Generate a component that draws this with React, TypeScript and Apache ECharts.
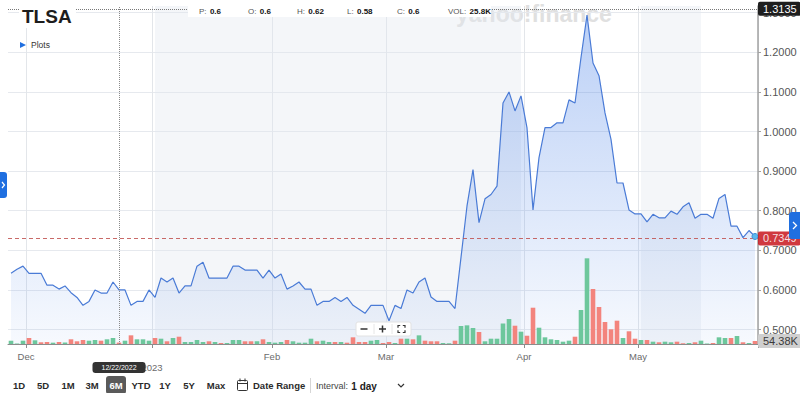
import React, { useEffect, useRef } from "react";
import * as echarts from "echarts";

// ---------- DATA ----------
const tradingDays: [number, number, number[]][] = [
  [2022, 11, [28, 29, 30]],
  [2022, 12, [1, 2, 5, 6, 7, 8, 9, 12, 13, 14, 15, 16, 19, 20, 21, 22, 23, 27, 28, 29, 30]],
  [2023, 1, [3, 4, 5, 6, 9, 10, 11, 12, 13, 17, 18, 19, 20, 23, 24, 25, 26, 27, 30, 31]],
  [2023, 2, [1, 2, 3, 6, 7, 8, 9, 10, 13, 14, 15, 16, 17, 21, 22, 23, 24, 27, 28]],
  [2023, 3, [1, 2, 3, 6, 7, 8, 9, 10, 13, 14, 15, 16, 17, 20, 21, 22, 23, 24, 27, 28, 29, 30, 31]],
  [2023, 4, [3, 4, 5, 6, 10, 11, 12, 13, 14, 17, 18, 19, 20, 21, 24, 25, 26, 27, 28]],
  [2023, 5, [1, 2, 3, 4, 5, 8, 9, 10, 11, 12, 15, 16, 17, 18, 19, 22, 23, 24, 25, 26]],
];

const closes = [
  0.642, 0.652, 0.66, 0.642, 0.642, 0.642, 0.612, 0.612, 0.602, 0.61,
  0.593, 0.581, 0.561, 0.571, 0.6, 0.592, 0.592, 0.62, 0.6, 0.6,
  0.561, 0.571, 0.571, 0.6, 0.581, 0.63, 0.62, 0.63, 0.592, 0.61,
  0.61, 0.66, 0.67, 0.63, 0.63, 0.63, 0.63, 0.66, 0.66, 0.65,
  0.65, 0.65, 0.63, 0.65, 0.63, 0.64, 0.602, 0.61, 0.62, 0.602,
  0.602, 0.561, 0.571, 0.571, 0.581, 0.571, 0.581, 0.561, 0.551, 0.541,
  0.561, 0.561, 0.561, 0.522, 0.561, 0.553, 0.6, 0.592, 0.62, 0.63,
  0.582, 0.571, 0.571, 0.571, 0.553, 0.682, 0.812, 0.904, 0.77, 0.83,
  0.841, 0.862, 1.072, 1.1, 1.052, 1.09, 1.009, 0.802, 0.934, 1.01,
  1.01, 1.022, 1.022, 1.08, 1.072, 1.187, 1.294, 1.173, 1.141, 1.047,
  0.98, 0.87, 0.87, 0.802, 0.792, 0.792, 0.772, 0.791, 0.782, 0.782,
  0.799, 0.791, 0.81, 0.82, 0.781, 0.791, 0.791, 0.781, 0.831, 0.841,
  0.761, 0.761, 0.732, 0.75, 0.7349,
];

// volume in thousands
const volumes = [
  60, 9, 60, 109, 67, 31, 36, 24, 36, 27,
  85, 49, 72, 60, 72, 60, 85, 109, 25.8, 60,
  157, 85, 85, 60, 109, 96, 49, 109, 132, 36,
  36, 72, 36, 49, 36, 18, 18, 72, 72, 49,
  49, 49, 85, 36, 24, 36, 72, 49, 24, 24,
  96, 49, 60, 36, 36, 36, 24, 121, 36, 36,
  60, 72, 18, 36, 18, 96, 96, 85, 157, 60,
  49, 49, 18, 13, 60, 326, 338, 290, 217, 49,
  96, 96, 371, 452, 331, 223, 150, 657, 295, 121,
  85, 72, 42, 60, 132, 615, 1551, 996, 670, 398,
  266, 422, 109, 230, 96, 72, 72, 42, 31, 42,
  31, 42, 13, 18, 31, 60, 9, 18, 121, 109,
  109, 145, 31, 18, 54.38,
];

const volDir = [
  "u", "u", "u", "d", "u", "d", "d", "u", "d", "u",
  "d", "d", "d", "u", "u", "d", "u", "u", "d", "u",
  "d", "u", "u", "u", "d", "u", "d", "u", "d", "u",
  "u", "u", "u", "d", "u", "d", "u", "u", "u", "d",
  "d", "u", "d", "u", "u", "u", "d", "u", "u", "u",
  "u", "d", "u", "u", "d", "u", "d", "d", "d", "d",
  "u", "u", "d", "d", "u", "d", "u", "d", "u", "d",
  "d", "d", "u", "u", "d", "u", "u", "u", "d", "u",
  "u", "u", "u", "u", "d", "u", "d", "d", "u", "u",
  "u", "u", "u", "u", "d", "u", "u", "d", "d", "d",
  "d", "d", "u", "d", "d", "u", "d", "u", "d", "u",
  "u", "d", "d", "u", "d", "u", "u", "d", "u", "u",
  "d", "u", "d", "u", "d",
];

const shadedRanges: [string, string][] = [
  ["2023-01-03", "2023-03-31"],
  ["2023-05-01", "2023-05-15"],
];

const periodHigh = 1.3135;
const crosshairDate = "2022-12-22";
const crosshairLabel = "12/22/2022";
const ticker = "TLSA";
const infoLabels = ["P", "O", "H", "L", "C", "VOL"];
const infoValues = ["0.6", "0.6", "0.62", "0.58", "0.6", "25.8K"];
const rangeButtons = ["1D", "5D", "1M", "3M", "6M", "YTD", "1Y", "5Y", "Max"];
const selectedRange = "6M";
const monthNames = ["Jan", "Feb", "Mar", "Apr", "May", "Jun", "Jul", "Aug", "Sep", "Oct", "Nov", "Dec"];

// ---------- DERIVED ----------
const pad = (n: number) => (n < 10 ? "0" + n : "" + n);
const categories: string[] = [];
tradingDays.forEach(([y, m, days]) => days.forEach((d) => categories.push(`${y}-${pad(m)}-${pad(d)}`)));
const monthOf = (s: string) => parseInt(s.slice(5, 7), 10);
const yearOf = (s: string) => s.slice(0, 4);
const isLabel = categories.map((c, i) => i > 0 && monthOf(c) !== monthOf(categories[i - 1]));
const labelText = (i: number) => {
  const c = categories[i];
  if (!c) return "";
  return monthOf(c) === 1 ? "\n" + yearOf(c) : monthNames[monthOf(c) - 1];
};
const last = closes.length - 1;
const lastClose = closes[last];
const lastVolume = volumes[last];

const FONT = "'Liberation Sans', Arial, Helvetica, sans-serif";
const GREEN = "#6dc79c";
const RED = "#f3847d";
const BLUE = "#1f6fe0";

// layout positions for chrome
const infoX = [199, 248, 297, 347, 397, 448];
const rangeX = [19, 43, 68, 92, 116, 141, 165, 189, 216];

function buildOption(): any {
  const graphics: any[] = [];
  // watermark (behind series)
  graphics.push({
    type: "text", x: 456, y: 14, z: 0, zlevel: 0, silent: true,
    style: { text: "yahoo!finance", fill: "#e0e0e0", font: "bold 23px " + FONT, verticalAlign: "middle" },
  });
  // info strip
  graphics.push({ type: "rect", z: 50, shape: { x: 188, y: 4, width: 303, height: 13 }, style: { fill: "#ffffff" } });
  infoLabels.forEach((l, i) => {
    graphics.push({
      type: "text", z: 51, x: infoX[i], y: 11,
      style: {
        text: `{l|${l}:} {v|${infoValues[i]}}`, verticalAlign: "middle",
        rich: {
          l: { fill: "#555", font: "8px " + FONT },
          v: { fill: "#111", font: "bold 8px " + FONT },
        },
      },
    });
  });
  // ticker
  graphics.push({ type: "rect", z: 50, shape: { x: 19, y: 1, width: 57, height: 27 }, style: { fill: "#ffffff" } });
  graphics.push({
    type: "text", z: 51, x: 22, y: 16,
    style: { text: ticker, fill: "#1d1d1d", font: "bold 19px " + FONT, verticalAlign: "middle" },
  });
  graphics.push({
    type: "polygon", z: 51, shape: { points: [[20, 42], [26, 45], [20, 48]] }, style: { fill: BLUE },
  });
  graphics.push({
    type: "text", z: 51, x: 31, y: 45,
    style: { text: "Plots", fill: "#333", font: "8.5px " + FONT, verticalAlign: "middle" },
  });
  // side tabs
  graphics.push({ type: "rect", z: 50, shape: { x: 0, y: 172, width: 7, height: 26, r: [0, 3, 3, 0] }, style: { fill: BLUE } });
  graphics.push({ type: "polyline", z: 51, shape: { points: [[2, 182], [4.5, 185], [2, 188]] }, style: { stroke: "#fff", lineWidth: 1.2, fill: null } });
  graphics.push({ type: "rect", z: 50, shape: { x: 789, y: 212, width: 11, height: 27, r: [3, 0, 0, 3] }, style: { fill: BLUE } });
  graphics.push({ type: "polyline", z: 51, shape: { points: [[793, 222], [796.5, 225.5], [793, 229]] }, style: { stroke: "#fff", lineWidth: 1.3, fill: null } });
  // zoom control
  graphics.push({ type: "rect", z: 50, shape: { x: 356, y: 322, width: 55, height: 14, r: 2 }, style: { fill: "#fff", stroke: "#e2e2e2", lineWidth: 1 } });
  graphics.push({ type: "line", z: 51, shape: { x1: 374, y1: 324, x2: 374, y2: 334 }, style: { stroke: "#e6e6e6" } });
  graphics.push({ type: "line", z: 51, shape: { x1: 392, y1: 324, x2: 392, y2: 334 }, style: { stroke: "#e6e6e6" } });
  graphics.push({ type: "line", z: 51, shape: { x1: 360.5, y1: 329, x2: 367.5, y2: 329 }, style: { stroke: "#333", lineWidth: 1.5 } });
  graphics.push({ type: "line", z: 51, shape: { x1: 379, y1: 329, x2: 386, y2: 329 }, style: { stroke: "#333", lineWidth: 1.5 } });
  graphics.push({ type: "line", z: 51, shape: { x1: 382.5, y1: 325.5, x2: 382.5, y2: 332.5 }, style: { stroke: "#333", lineWidth: 1.5 } });
  const ex = 398, ey = 325.5, es = 7, ec = 2.2;
  [
    [[ex, ey + ec], [ex, ey], [ex + ec, ey]],
    [[ex + es - ec, ey], [ex + es, ey], [ex + es, ey + ec]],
    [[ex, ey + es - ec], [ex, ey + es], [ex + ec, ey + es]],
    [[ex + es - ec, ey + es], [ex + es, ey + es], [ex + es, ey + es - ec]],
  ].forEach((pts) =>
    graphics.push({ type: "polyline", z: 51, shape: { points: pts }, style: { stroke: "#333", lineWidth: 1.2, fill: null } })
  );
  // bottom toolbar
  rangeButtons.forEach((b, i) => {
    const sel = b === selectedRange;
    if (sel) {
      graphics.push({ type: "rect", z: 50, shape: { x: rangeX[i] - 10, y: 376, width: 20, height: 18, r: 3 }, style: { fill: "#5a5a5a" } });
    }
    graphics.push({
      type: "text", z: 51, x: rangeX[i], y: 385.5,
      style: { text: b, fill: sel ? "#fff" : "#2b2b2b", font: "bold 9.5px " + FONT, align: "center", verticalAlign: "middle" },
    });
  });
  graphics.push({ type: "rect", z: 51, shape: { x: 237.5, y: 380.5, width: 10, height: 10, r: 1 }, style: { fill: null, stroke: "#333", lineWidth: 1 } });
  graphics.push({ type: "line", z: 51, shape: { x1: 237.5, y1: 383.5, x2: 247.5, y2: 383.5 }, style: { stroke: "#333", lineWidth: 1 } });
  graphics.push({ type: "line", z: 51, shape: { x1: 240, y1: 378.5, x2: 240, y2: 381.5 }, style: { stroke: "#333", lineWidth: 1 } });
  graphics.push({ type: "line", z: 51, shape: { x1: 245, y1: 378.5, x2: 245, y2: 381.5 }, style: { stroke: "#333", lineWidth: 1 } });
  graphics.push({
    type: "text", z: 51, x: 253, y: 385.5,
    style: { text: "Date Range", fill: "#2b2b2b", font: "bold 9.5px " + FONT, verticalAlign: "middle" },
  });
  graphics.push({ type: "line", z: 51, shape: { x1: 310.5, y1: 378, x2: 310.5, y2: 393 }, style: { stroke: "#d6d6d6", lineWidth: 1 } });
  graphics.push({
    type: "text", z: 51, x: 316, y: 386,
    style: {
      text: "{l|Interval:} {v|1 day}", verticalAlign: "middle",
      rich: { l: { fill: "#444", font: "9px " + FONT }, v: { fill: "#222", font: "bold 10px " + FONT } },
    },
  });
  graphics.push({ type: "polyline", z: 51, shape: { points: [[398, 384], [401, 387], [404, 384]] }, style: { stroke: "#333", lineWidth: 1.2, fill: null } });

  return {
    animation: false,
    backgroundColor: "#ffffff",
    textStyle: { fontFamily: FONT },
    grid: { left: 8, right: 42, top: 6, bottom: 49, containLabel: false },
    xAxis: {
      type: "category",
      data: categories,
      boundaryGap: true,
      axisLine: { show: true, lineStyle: { color: "#8c8c8c", width: 1 } },
      axisTick: { show: true, interval: (i: number) => isLabel[i], length: 4, lineStyle: { color: "#8c8c8c" } },
      axisLabel: {
        interval: (i: number) => isLabel[i],
        formatter: (_v: string, i: number) => labelText(i),
        color: "#6b6b6b", fontSize: 9.5, margin: 7, lineHeight: 11, padding: [0, 6, 0, 0],
      },
      splitLine: { show: true, interval: (i: number) => isLabel[i], lineStyle: { color: "#e3e6ea", width: 1 } },
    },
    yAxis: [
      {
        type: "value", position: "right", min: 0.4634, max: 1.317, splitNumber: 8,
        axisLine: { show: true, lineStyle: { color: "#a2a2a2", width: 1.5 } },
        axisTick: { show: true, length: 3, lineStyle: { color: "#a2a2a2" } },
        axisLabel: {
          formatter: (v: number) => v.toFixed(4), color: "#555", fontSize: 11, margin: 5,
          showMinLabel: false, showMaxLabel: false,
        },
        splitLine: { show: true, lineStyle: { color: "#e6e9ee" }, showMinLine: false, showMaxLine: false },
      },
      { type: "value", min: 0, max: 6118, show: false, splitLine: { show: false } },
    ],
    graphic: { elements: graphics },
    series: [
      {
        type: "line", data: [], z: 1, silent: true, yAxisIndex: 0,
        markArea: {
          silent: true,
          itemStyle: { color: "rgba(225,231,239,0.38)" },
          data: shadedRanges.map(([a, b]) => [{ xAxis: a }, { xAxis: b }]),
        },
      },
      {
        type: "line", name: "Close", data: closes, yAxisIndex: 0, z: 2,
        showSymbol: false, symbol: "none",
        lineStyle: { color: "#4a7bd6", width: 1.2 },
        areaStyle: {
          color: new echarts.graphic.LinearGradient(0, 0, 0, 1, [
            { offset: 0, color: "rgba(60,120,230,0.5)" },
            { offset: 1, color: "rgba(60,120,230,0.06)" },
          ]),
        },
        markLine: {
          silent: true, symbol: ["none", "none"], animation: false,
          data: [
            {
              yAxis: lastClose,
              lineStyle: { color: "#c0504d", type: [4, 3], width: 1, opacity: 0.85 },
              label: {
                show: true, position: "end", formatter: lastClose.toFixed(4), distance: 0,
                backgroundColor: "#c8161d", color: "#fff", fontSize: 11, padding: [2, 4, 1, 5], borderRadius: 2,
              },
            },
            {
              yAxis: periodHigh,
              lineStyle: { color: "#777", type: "dotted", width: 1 },
              label: {
                show: true, position: "end", formatter: periodHigh.toFixed(4), distance: 0,
                backgroundColor: "#1e1e1e", color: "#fff", fontSize: 11, padding: [2, 4, 1, 5], borderRadius: 2,
              },
            },
            {
              xAxis: crosshairDate,
              lineStyle: { color: "#8a8a8a", type: "dotted", width: 1 },
              label: {
                show: true, position: "start", formatter: crosshairLabel, distance: 18,
                backgroundColor: "#333", color: "#fff", fontSize: 7, padding: [2, 9, 2, 9], borderRadius: 3,
              },
            },
          ],
        },
        markPoint: {
          silent: true, animation: false,
          data: [
            {
              coord: [categories[last], lastClose], symbol: "circle", symbolSize: 6,
              itemStyle: { color: "#5bb8ee", borderColor: "#3d8fd4", borderWidth: 1 },
              label: { show: false },
            },
          ],
        },
      },
      {
        type: "bar", name: "Volume", yAxisIndex: 1, z: 3, barWidth: 4.6,
        data: volumes.map((v, i) => ({ value: v, itemStyle: { color: volDir[i] === "u" ? GREEN : RED } })),
        markLine: {
          silent: true, symbol: ["none", "none"], animation: false,
          data: [
            {
              yAxis: lastVolume,
              lineStyle: { color: "rgba(0,0,0,0)", width: 0 },
              label: {
                show: true, position: "end", formatter: lastVolume.toFixed(2) + "K", distance: 0,
                backgroundColor: "#cfcfcf", color: "#3a3a3a", fontSize: 11, padding: [2, 4, 1, 5], borderRadius: 2,
              },
            },
          ],
        },
      },
    ],
  };
}

export default function App() {
  const ref = useRef<HTMLDivElement>(null);
  useEffect(() => {
    document.body.style.margin = "0";
    if (!ref.current) return;
    const chart = echarts.init(ref.current, null, { renderer: "svg" });
    chart.setOption(buildOption());
    return () => chart.dispose();
  }, []);
  return <div ref={ref} style={{ width: 800, height: 393 }} />;
}
